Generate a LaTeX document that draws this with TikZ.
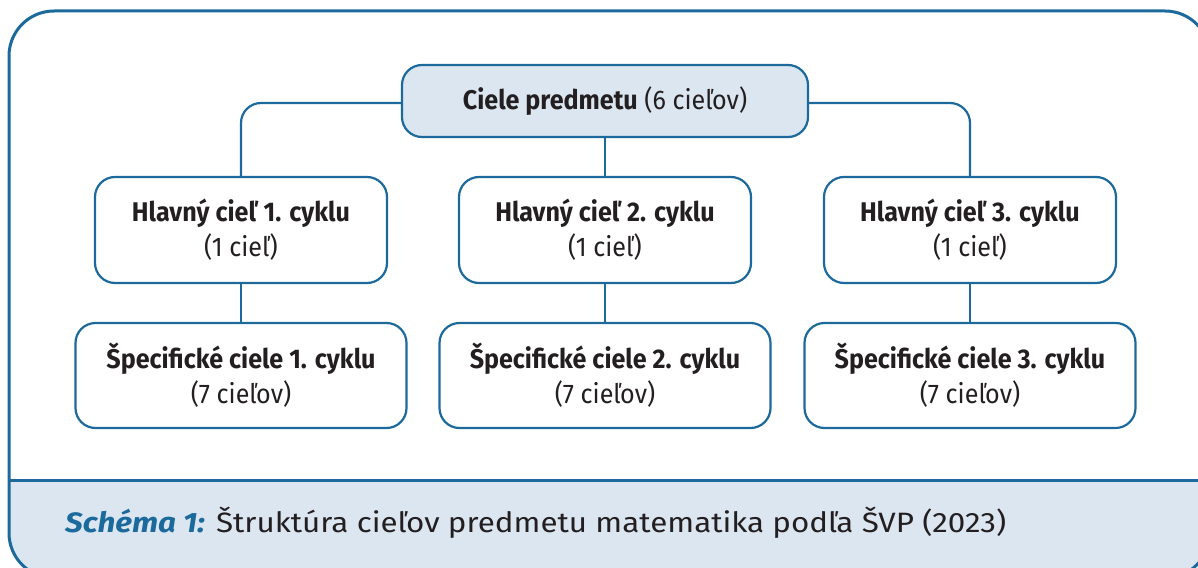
\documentclass[tikz,border=0pt]{standalone}
\usepackage{fontspec}
\setmainfont{Fira Sans}
\newfontfamily\boxfont{Fira Sans}[FakeStretch=0.93]
\newfontfamily\capfont{Fira Sans}[FakeStretch=1.12]
\definecolor{frameblue}{HTML}{1C6A9C}
\definecolor{paleblue}{HTML}{DCE6F1}
\definecolor{ink}{HTML}{231F20}

\begin{document}
\begin{tikzpicture}[x=1pt,y=-1pt,
    box/.style={draw=frameblue,line width=2.2pt,rounded corners=20pt,fill=white,
      align=center,inner sep=0pt,text=ink,font=\boxfont\fontsize{27}{35}\selectfont},
    link/.style={draw=frameblue,line width=2.2pt}]
    \useasboundingbox (0,0) rectangle (1198,567);
    \clip (0,0) rectangle (1198,567);
    % frame with caption band
    \begin{scope}
      \clip[rounded corners=45pt] (9,11) rectangle (1210,578);
      \fill[paleblue] (0,480) rectangle (1220,590);
    \end{scope}
    \draw[frameblue,line width=3pt,rounded corners=45pt] (9,11) rectangle (1210,578);
    \draw[frameblue,line width=3pt] (9,480) -- (1210,480);

    \node[box,fill=paleblue,minimum width=406pt,minimum height=72pt] (goals) at (605,101)
      {\textbf{Ciele predmetu} (6 cieľov)};

    \node[box,minimum width=292pt,minimum height=106pt] (main1) at (241,230)
      {\textbf{Hlavný cieľ 1. cyklu}\\(1 cieľ)};
    \node[box,minimum width=292pt,minimum height=106pt] (main2) at (605,230)
      {\textbf{Hlavný cieľ 2. cyklu}\\(1 cieľ)};
    \node[box,minimum width=292pt,minimum height=106pt] (main3) at (970,230)
      {\textbf{Hlavný cieľ 3. cyklu}\\(1 cieľ)};

    \node[box,minimum width=331pt,minimum height=105pt] (spec1) at (241,375.5)
      {\textbf{Špecifické ciele 1. cyklu}\\(7 cieľov)};
    \node[box,minimum width=331pt,minimum height=105pt] (spec2) at (605,375.5)
      {\textbf{Špecifické ciele 2. cyklu}\\(7 cieľov)};
    \node[box,minimum width=331pt,minimum height=105pt] (spec3) at (970,375.5)
      {\textbf{Špecifické ciele 3. cyklu}\\(7 cieľov)};

    \draw[link,rounded corners=20pt] ([yshift=-2pt]goals.west) -| (main1.north);
    \draw[link,rounded corners=20pt] ([yshift=-2pt]goals.east) -| (main3.north);
    \draw[link] (goals.south) -- (main2.north);
    \draw[link] (main1.south) -- (spec1.north) (main2.south) -- (spec2.north)
      (main3.south) -- (spec3.north);

    \node[anchor=base west,inner sep=0pt,text=ink,font=\capfont\fontsize{28}{32}\selectfont] (caption) at (65,532)
      {\textcolor{frameblue}{\textbf{\textit{Schéma 1:}}} Štruktúra cieľov predmetu matematika podľa ŠVP (2023)};
  \end{tikzpicture}
\end{document}
